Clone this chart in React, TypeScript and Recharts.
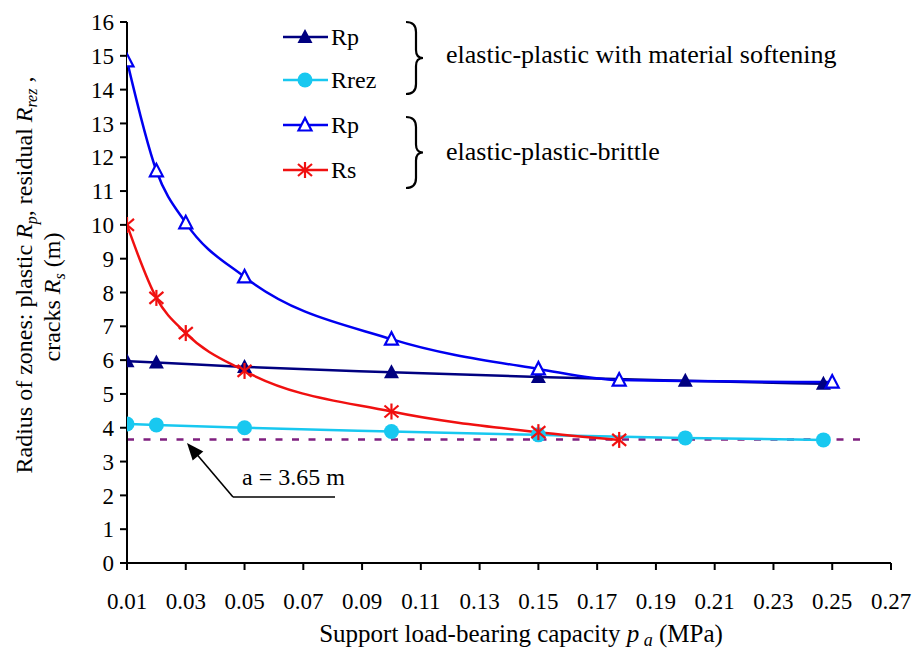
import { LineChart, Line, XAxis, YAxis, ReferenceLine, Customized } from 'recharts';

// x values in MPa, y values in m
const xTicks = [0.01, 0.03, 0.05, 0.07, 0.09, 0.11, 0.13, 0.15, 0.17, 0.19, 0.21, 0.23, 0.25, 0.27];
const yTicks = [0, 1, 2, 3, 4, 5, 6, 7, 8, 9, 10, 11, 12, 13, 14, 15, 16];

const softRpX = [0.01, 0.02, 0.05, 0.1, 0.15, 0.2, 0.247];
const softRpY = [5.97, 5.93, 5.8, 5.64, 5.5, 5.39, 5.3];
const rezX = [0.01, 0.02, 0.05, 0.1, 0.15, 0.2, 0.247];
const rezY = [4.11, 4.08, 4.0, 3.89, 3.79, 3.7, 3.64];
const brittleRpX = [0.01, 0.02, 0.03, 0.05, 0.1, 0.15, 0.1775, 0.25];
const brittleRpY = [14.85, 11.6, 10.06, 8.46, 6.62, 5.74, 5.41, 5.35];
const rsX = [0.01, 0.02, 0.03, 0.05, 0.1, 0.15, 0.1775];
const rsY = [10.0, 7.84, 6.8, 5.68, 4.48, 3.87, 3.64];
const wallRadius = 3.65;
const wallEndX = 0.26;

const NAVY = '#000080';
const CYAN = '#18C8F0';
const BLUE = '#0000F0';
const RED = '#F01010';
const PURPLE = '#7F1F7F';
const FONT = '"Liberation Serif", "Times New Roman", serif';

const toPoints = (xs: number[], ys: number[]) => xs.map((x, i) => ({ x, y: ys[i] }));

const FilledTriangle = ({ cx, cy }: any) => (
  <polygon points={`${cx},${cy - 8} ${cx - 7.5},${cy + 6} ${cx + 7.5},${cy + 6}`} fill={NAVY} />
);
const OpenTriangle = ({ cx, cy }: any) => (
  <polygon
    points={`${cx},${cy - 7} ${cx - 6.5},${cy + 5.5} ${cx + 6.5},${cy + 5.5}`}
    fill="#fff"
    stroke={BLUE}
    strokeWidth={2.2}
  />
);
const Dot = ({ cx, cy }: any) => <circle cx={cx} cy={cy} r={7.5} fill={CYAN} />;
const Star = ({ cx, cy }: any) => (
  <g stroke={RED} strokeWidth={2.2}>
    <line x1={cx} y1={cy - 8} x2={cx} y2={cy + 8} />
    <line x1={cx - 7} y1={cy - 6} x2={cx + 7} y2={cy + 6} />
    <line x1={cx - 7} y1={cy + 6} x2={cx + 7} y2={cy - 6} />
  </g>
);

const marker = (Shape: any) => (p: any) => <Shape key={`m-${p.index}`} cx={p.cx} cy={p.cy} />;

const LegendRow = ({ y, color, Shape, label }: any) => (
  <g>
    <line x1={275} x2={320} y1={y} y2={y} stroke={color} strokeWidth={2.5} />
    <Shape cx={297} cy={y} />
    <text x={323} y={y + 8} fontSize={24} fontFamily={FONT} fill="#000">
      {label}
    </text>
  </g>
);

const Brace = ({ x, y1, y2 }: any) => {
  const m = (y1 + y2) / 2;
  return (
    <path
      d={`M${x},${y1} Q${x + 10},${y1} ${x + 10},${y1 + 10} L${x + 10},${m - 8} Q${x + 10},${m} ${x + 17},${m}
          Q${x + 10},${m} ${x + 10},${m + 8} L${x + 10},${y2 - 10} Q${x + 10},${y2} ${x},${y2}`}
      fill="none"
      stroke="#000"
      strokeWidth={2.2}
    />
  );
};

// coordinates below are relative to the old 8px body offset
const Annotations = () => (
  <g fontFamily={FONT} transform="translate(8,8)">
    <LegendRow y={29} color={NAVY} Shape={FilledTriangle} label="Rp" />
    <LegendRow y={72} color={CYAN} Shape={Dot} label="Rrez" />
    <LegendRow y={117} color={BLUE} Shape={OpenTriangle} label="Rp" />
    <LegendRow y={162} color={RED} Shape={Star} label="Rs" />
    <Brace x={398} y1={14} y2={86} />
    <Brace x={398} y1={109} y2={180} />
    <text x={438} y={55} fontSize={26} fill="#000">elastic-plastic with material softening</text>
    <text x={438} y={152} fontSize={26} fill="#000">elastic-plastic-brittle</text>

    {/* arrow pointing at the wall radius line */}
    <polyline points="225,489 327,489" fill="none" stroke="#000" strokeWidth={1.3} />
    <line x1={225} y1={489} x2={186} y2={443} stroke="#000" strokeWidth={1.6} />
    <polygon points="179,435 184.7,452.4 195.3,443.4" fill="#000" />
    <text x={234} y={477} fontSize={24} fill="#000">a = 3.65 m</text>

    {/* axis titles */}
    <text transform="translate(24,267) rotate(-90)" textAnchor="middle" fontSize={24} fill="#000">
      Radius of zones: plastic <tspan fontStyle="italic">R</tspan>
      <tspan fontStyle="italic" fontSize={16} dy={5}>p</tspan>
      <tspan dy={-5}>, residual </tspan>
      <tspan fontStyle="italic">R</tspan>
      <tspan fontStyle="italic" fontSize={16} dy={5}>rez</tspan>
      <tspan dy={-5}> ,</tspan>
    </text>
    <text transform="translate(52,289) rotate(-90)" textAnchor="middle" fontSize={24} fill="#000">
      cracks <tspan fontStyle="italic">R</tspan>
      <tspan fontStyle="italic" fontSize={16} dy={5}>s</tspan>
      <tspan dy={-5}> (m)</tspan>
    </text>
    <text x={513} y={634} textAnchor="middle" fontSize={25} fill="#000">
      Support load-bearing capacity <tspan fontStyle="italic">p</tspan>
      <tspan fontStyle="italic" fontSize={18} dy={4}> a</tspan>
      <tspan dy={-4}>  (MPa)</tspan>
    </text>
  </g>
);

export default function App() {
  const tickStyle = { fontSize: 23, fontFamily: FONT, fill: '#000' };
  return (
    <div style={{ position: 'absolute', left: 0, top: 0, width: 912, height: 655, overflow: 'hidden' }}>
      <LineChart width={912} height={655} margin={{ top: 22, right: 21, left: 8, bottom: 8 }}>
        <XAxis
          type="number"
          dataKey="x"
          domain={[0.01, 0.27]}
          ticks={xTicks}
          tickFormatter={(v: number) => v.toFixed(2)}
          allowDataOverflow
          height={84}
          tickSize={7}
          tickMargin={23}
          tick={tickStyle}
          axisLine={{ stroke: '#000', strokeWidth: 2 }}
          tickLine={{ stroke: '#000', strokeWidth: 2 }}
        />
        <YAxis
          type="number"
          dataKey="y"
          domain={[0, 16]}
          ticks={yTicks}
          width={119}
          tickSize={7}
          tickMargin={6}
          tick={tickStyle}
          axisLine={{ stroke: '#000', strokeWidth: 2 }}
          tickLine={{ stroke: '#000', strokeWidth: 2 }}
        />
        <ReferenceLine
          segment={[{ x: 0.01, y: wallRadius }, { x: wallEndX, y: wallRadius }]}
          stroke={PURPLE}
          strokeWidth={2.5}
          strokeDasharray="7 9.5"
        />
        <Line
          data={toPoints(rezX, rezY)}
          dataKey="y"
          type="monotone"
          stroke={CYAN}
          strokeWidth={2.5}
          dot={marker(Dot)}
          isAnimationActive={false}
        />
        <Line
          data={toPoints(softRpX, softRpY)}
          dataKey="y"
          type="monotone"
          stroke={NAVY}
          strokeWidth={2.5}
          dot={marker(FilledTriangle)}
          isAnimationActive={false}
        />
        <Line
          data={toPoints(rsX, rsY)}
          dataKey="y"
          type="monotone"
          stroke={RED}
          strokeWidth={2.5}
          dot={marker(Star)}
          isAnimationActive={false}
        />
        <Line
          data={toPoints(brittleRpX, brittleRpY)}
          dataKey="y"
          type="monotone"
          stroke={BLUE}
          strokeWidth={2.5}
          dot={marker(OpenTriangle)}
          isAnimationActive={false}
        />
        <Customized component={<Annotations />} />
      </LineChart>
    </div>
  );
}
